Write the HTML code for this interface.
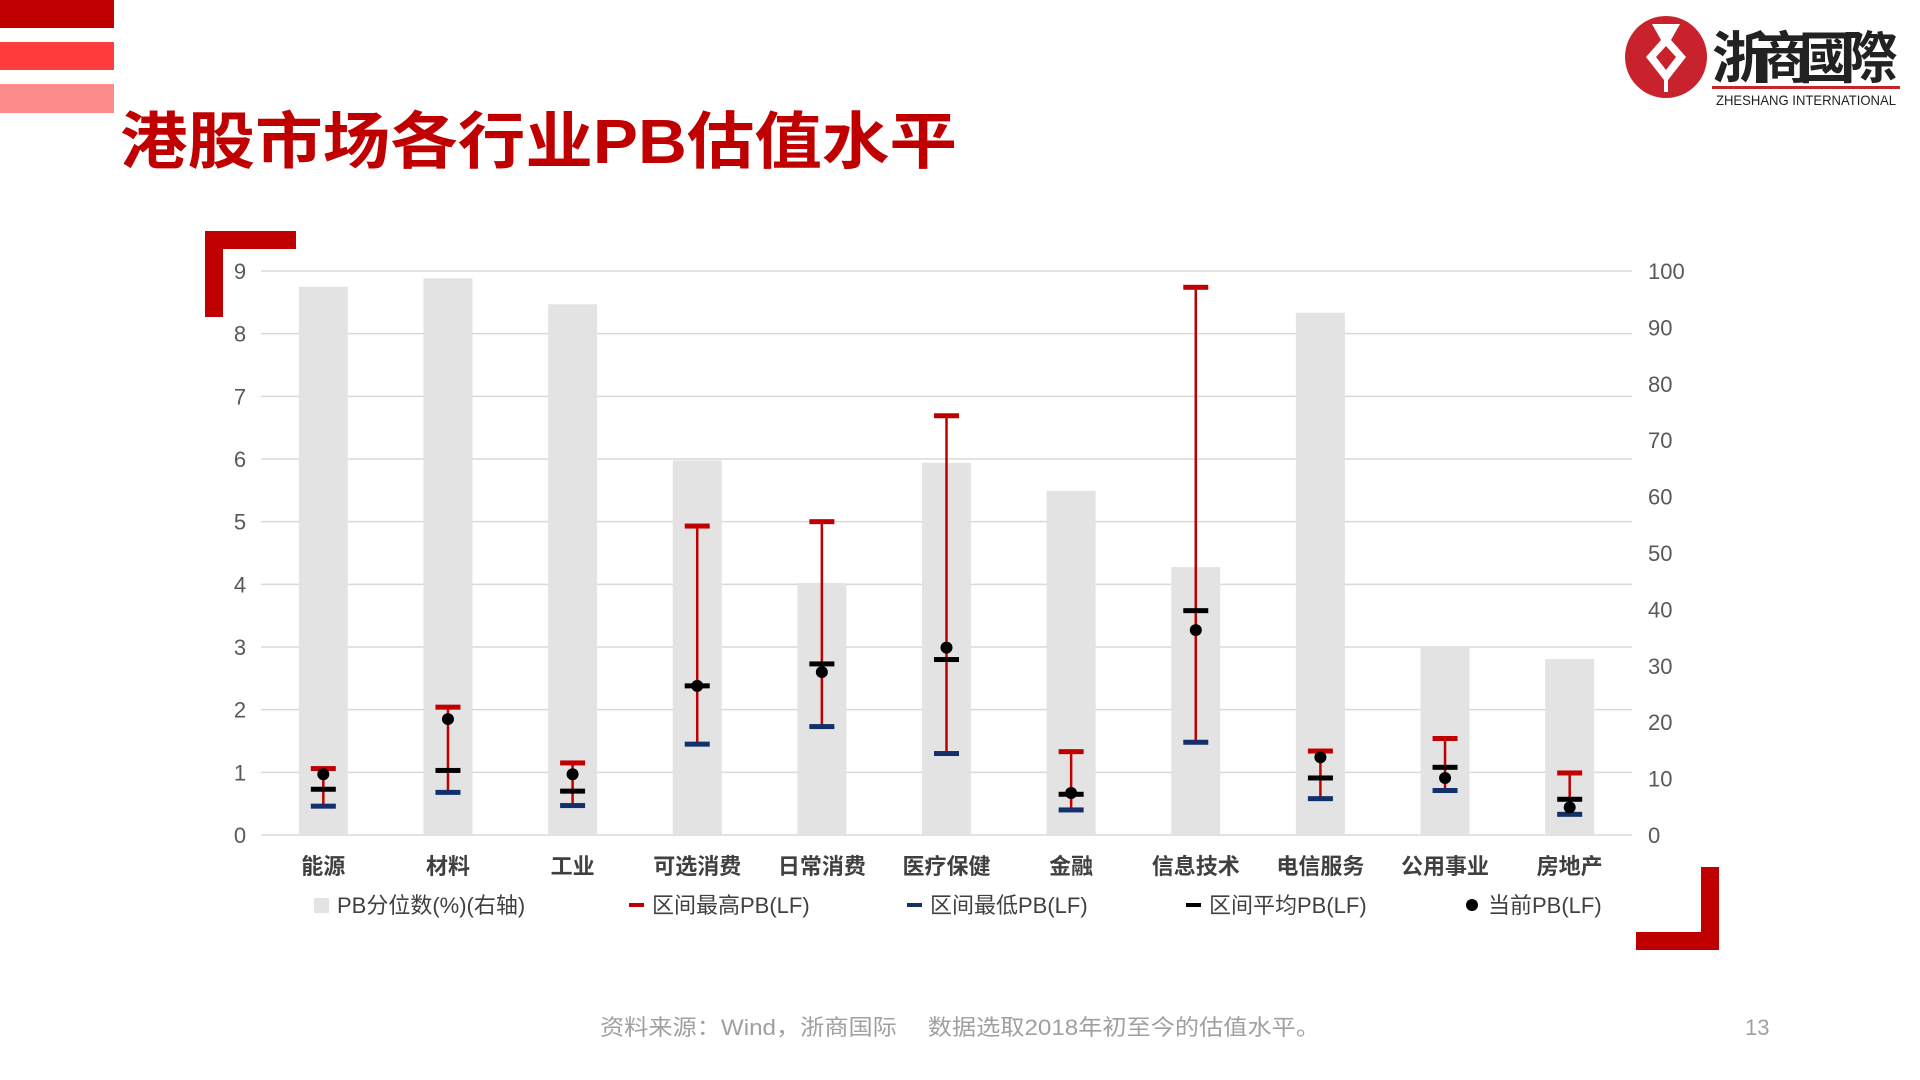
<!DOCTYPE html>
<html><head><meta charset="utf-8"><style>
body{margin:0;background:#fff;}
svg{display:block;}
text{font-family:"Liberation Sans","Noto Sans CJK SC",sans-serif;}
</style></head><body>
<svg width="1920" height="1080" viewBox="0 0 1920 1080">
<rect x="0" y="0" width="114" height="28" fill="#c00000"/>
<rect x="0" y="42" width="114" height="28" fill="#ff3b3b"/>
<rect x="0" y="84" width="114" height="29" fill="#ff8c8c"/>
<text x="120" y="163" font-size="62" font-weight="bold" fill="#c00000" textLength="837" lengthAdjust="spacingAndGlyphs">港股市场各行业PB估值水平</text>
<g>
<circle cx="1666" cy="57" r="41" fill="#c8232c"/>
<path d="M1652 24 L1680 24 L1671 40 L1686 57 L1668 80 L1668 92 L1664 92 L1664 80 L1646 57 L1661 40 Z" fill="#fff"/>
<path d="M1666 46 L1676 57 L1666 70 L1656 57 Z" fill="#c8232c"/>
<text x="1712" y="78" font-size="56" font-weight="bold" fill="#222" font-family="Noto Serif CJK SC,serif" textLength="186">浙商國際</text>
<rect x="1712" y="86" width="188" height="3" fill="#c8232c"/>
<text x="1716" y="105" font-size="14" fill="#222" font-family="Liberation Serif,serif" textLength="180" lengthAdjust="spacingAndGlyphs">ZHESHANG INTERNATIONAL</text>
</g>
<path d="M205 231 H296 V249 H223 V317 H205 Z" fill="#c00000"/>
<path d="M1719 867 V950 H1636 V932 H1701 V867 Z" fill="#c00000"/>
<g id="chart"></g>
<g font-size="22" fill="#404040">
<rect x="314" y="898" width="15" height="15" fill="#e3e3e3"/>
<text x="337" y="913">PB分位数(%)(右轴)</text>
<rect x="629" y="903" width="15" height="4" fill="#c00000"/>
<text x="652" y="913">区间最高PB(LF)</text>
<rect x="907" y="903" width="15" height="4" fill="#13306b"/>
<text x="930" y="913">区间最低PB(LF)</text>
<rect x="1186" y="903" width="15" height="4" fill="#000"/>
<text x="1209" y="913">区间平均PB(LF)</text>
<circle cx="1472" cy="905" r="6" fill="#000"/>
<text x="1488" y="913">当前PB(LF)</text>
</g>
<text x="600" y="1035" font-size="22" fill="#a0a0a0" textLength="720" lengthAdjust="spacingAndGlyphs">资料来源：Wind，浙商国际　 数据选取2018年初至今的估值水平。</text>
<text x="1745" y="1035" font-size="22" fill="#a0a0a0">13</text>
</svg>
<script>
const categories=["能源","材料","工业","可选消费","日常消费","医疗保健","金融","信息技术","电信服务","公用事业","房地产"];
const pbPercentile=[97.2,98.7,94.1,66.4,44.7,66,61,47.5,92.6,33.5,31.2];
const pbHigh=[1.06,2.04,1.15,4.93,5.0,6.69,1.33,8.74,1.34,1.54,0.99];
const pbLow=[0.46,0.68,0.47,1.45,1.73,1.3,0.4,1.48,0.58,0.71,0.33];
const pbAvg=[0.73,1.03,0.7,2.38,2.73,2.8,0.65,3.58,0.91,1.08,0.57];
const pbCurrent=[0.97,1.85,0.97,2.38,2.6,2.99,0.67,3.27,1.24,0.91,0.44];
const leftTicks=[0,1,2,3,4,5,6,7,8,9];
const rightTicks=[0,10,20,30,40,50,60,70,80,90,100];
const NS="http://www.w3.org/2000/svg";
const g=document.getElementById('chart');
const X0=261,X1=1632,Y0=835,Y9=271;
const yL=v=>Y0-(Y0-Y9)*v/9;
const yR=v=>Y0-(Y0-Y9)*v/100;
const bw=(X1-X0)/categories.length;
const xC=i=>X0+bw*(i+0.5);
function mk(tag,attrs){const e=document.createElementNS(NS,tag);for(const k in attrs)e.setAttribute(k,attrs[k]);g.appendChild(e);return e;}
leftTicks.forEach(t=>{
  const l=mk('line',{x1:X0,x2:X1,y1:yL(t),y2:yL(t),stroke:'#d9d9d9','stroke-width':1.5});
  
  
  const tx=mk('text',{x:240,y:yL(t)+8,'font-size':22,fill:'#595959','text-anchor':'middle'});
  tx.textContent=t;
  
  
});
rightTicks.forEach(t=>{
  const tx=mk('text',{x:1648,y:yR(t)+8,'font-size':22,fill:'#595959'});
  tx.textContent=t;
  
  
});
categories.forEach((c,i)=>{
  const x=xC(i);
  const b=mk('rect',{x:x-24.5,y:yR(pbPercentile[i]),width:49,height:Y0-yR(pbPercentile[i]),fill:'#e3e3e3'});
  
  
  const ln=mk('line',{x1:x,x2:x,y1:yL(pbHigh[i]),y2:yL(pbLow[i]),stroke:'#c00000','stroke-width':2.5});
  
  
  const hi=mk('rect',{x:x-12.5,y:yL(pbHigh[i])-2.5,width:25,height:5,fill:'#c00000'});
  
  
  const lo=mk('rect',{x:x-12.5,y:yL(pbLow[i])-2.5,width:25,height:5,fill:'#13306b'});
  
  
  const av=mk('rect',{x:x-12.5,y:yL(pbAvg[i])-2.5,width:25,height:5,fill:'#000'});
  
  
  const cu=mk('circle',{cx:x,cy:yL(pbCurrent[i]),r:6,fill:'#000'});
  
  
  const tx=mk('text',{x:x,y:874,'font-size':22,'font-weight':'bold',fill:'#404040','text-anchor':'middle'});
  tx.textContent=c;
  
  
});
</script>
</body></html>
